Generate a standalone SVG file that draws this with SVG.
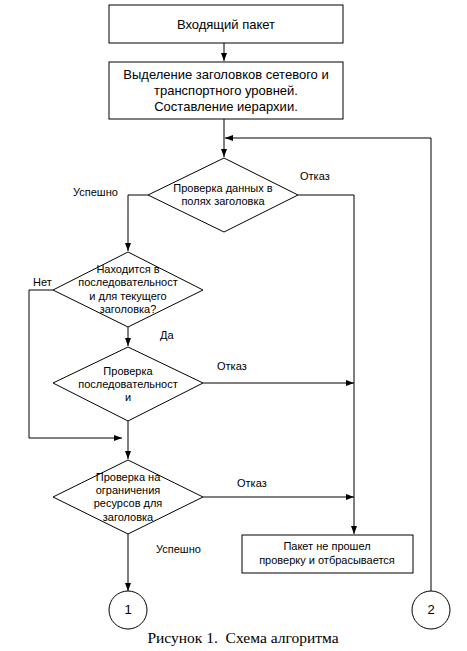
<svg xmlns="http://www.w3.org/2000/svg" width="467" height="651" viewBox="0 0 467 651">
<style>
.s{fill:#fff;stroke:#000;stroke-width:1}
.t{font-family:"Liberation Sans",Arial,sans-serif;font-size:13px;fill:#000;text-anchor:middle}
.d{font-family:"Liberation Sans",Arial,sans-serif;font-size:11px;fill:#000;text-anchor:middle}
.l{font-family:"Liberation Sans",Arial,sans-serif;font-size:11px;fill:#000}
.c{fill:none;stroke:#000;stroke-width:1}
</style>
<defs>
<marker id="a" viewBox="0 0 8 6" refX="8" refY="3" markerWidth="8" markerHeight="6" markerUnits="userSpaceOnUse" orient="auto">
<path d="M0,0 L8,3 L0,6 Z" fill="#000"/>
</marker>
</defs>
<rect width="467" height="651" fill="#fff"/>
<g id="connectors">
<path class="c" d="M224,43 V61" marker-end="url(#a)"/>
<path class="c" d="M224,119 V157" marker-end="url(#a)"/>
<path class="c" d="M431,591 V138 H225" marker-end="url(#a)"/>
<path class="c" d="M148,195 H128 V251" marker-end="url(#a)"/>
<path class="c" d="M298,195 H354 V534" marker-end="url(#a)"/>
<path class="c" d="M128,327 V346" marker-end="url(#a)"/>
<path class="c" d="M53,290 H29 V438 H122" marker-end="url(#a)"/>
<path class="c" d="M203,383 H354" marker-end="url(#a)"/>
<path class="c" d="M128,421 V459" marker-end="url(#a)"/>
<path class="c" d="M203,497 H354" marker-end="url(#a)"/>
<path class="c" d="M128,534 V591" marker-end="url(#a)"/>
<text class="l" x="73" y="196">Успешно</text>
<text class="l" x="300" y="180">Отказ</text>
<text class="l" x="33" y="286">Нет</text>
<text class="l" x="160" y="339">Да</text>
<text class="l" x="217" y="370">Отказ</text>
<text class="l" x="237" y="487">Отказ</text>
<text class="l" x="156" y="553">Успешно</text>
</g>
<g id="n1">
<rect class="s" x="109" y="5" width="234" height="38"/>
<text class="t" x="226" y="29">Входящий пакет</text>
</g>
<g id="n2">
<rect class="s" x="109" y="62" width="234" height="57"/>
<text class="t" x="226" y="79">Выделение заголовков сетевого и</text>
<text class="t" x="226" y="95">транспортного уровней.</text>
<text class="t" x="226" y="111">Составление иерархии.</text>
</g>
<g id="n3">
<polygon class="s" points="224,158 298,195 224,232 148,195"/>
<text class="d" x="223" y="192">Проверка данных в</text>
<text class="d" x="223" y="205">полях заголовка</text>
</g>
<g id="n4">
<polygon class="s" points="128,252 203,290 128,327 53,290"/>
<text class="d" x="128" y="273">Находится в</text>
<text class="d" x="128" y="286">последовательност</text>
<text class="d" x="128" y="300">и для текущего</text>
<text class="d" x="128" y="313">заголовка?</text>
</g>
<g id="n5">
<polygon class="s" points="128,347 203,383 128,421 53,383"/>
<text class="d" x="128" y="375">Проверка</text>
<text class="d" x="128" y="388">последовательност</text>
<text class="d" x="128" y="401">и</text>
</g>
<g id="n6">
<polygon class="s" points="128,460 203,497 128,534 53,497"/>
<text class="d" x="128" y="481">Проверка на</text>
<text class="d" x="128" y="494">ограничения</text>
<text class="d" x="128" y="507">ресурсов для</text>
<text class="d" x="128" y="521">заголовка</text>
</g>
<g id="n7">
<rect class="s" x="242" y="535" width="171" height="38"/>
<text class="d" x="327" y="550">Пакет не прошел</text>
<text class="d" x="327" y="564">проверку и отбрасывается</text>
</g>
<g id="n8">
<circle class="s" cx="128" cy="610" r="19"/>
<text class="t" x="128" y="614">1</text>
</g>
<g id="n9">
<circle class="s" cx="431" cy="610" r="19"/>
<text class="t" x="431" y="614">2</text>
</g>
<g id="caption">
<text x="243" y="643" style="font-family:'Liberation Serif','Times New Roman',serif;font-size:15.5px;text-anchor:middle" xml:space="preserve">Рисунок 1.  Схема алгоритма</text>
</g>
</svg>
